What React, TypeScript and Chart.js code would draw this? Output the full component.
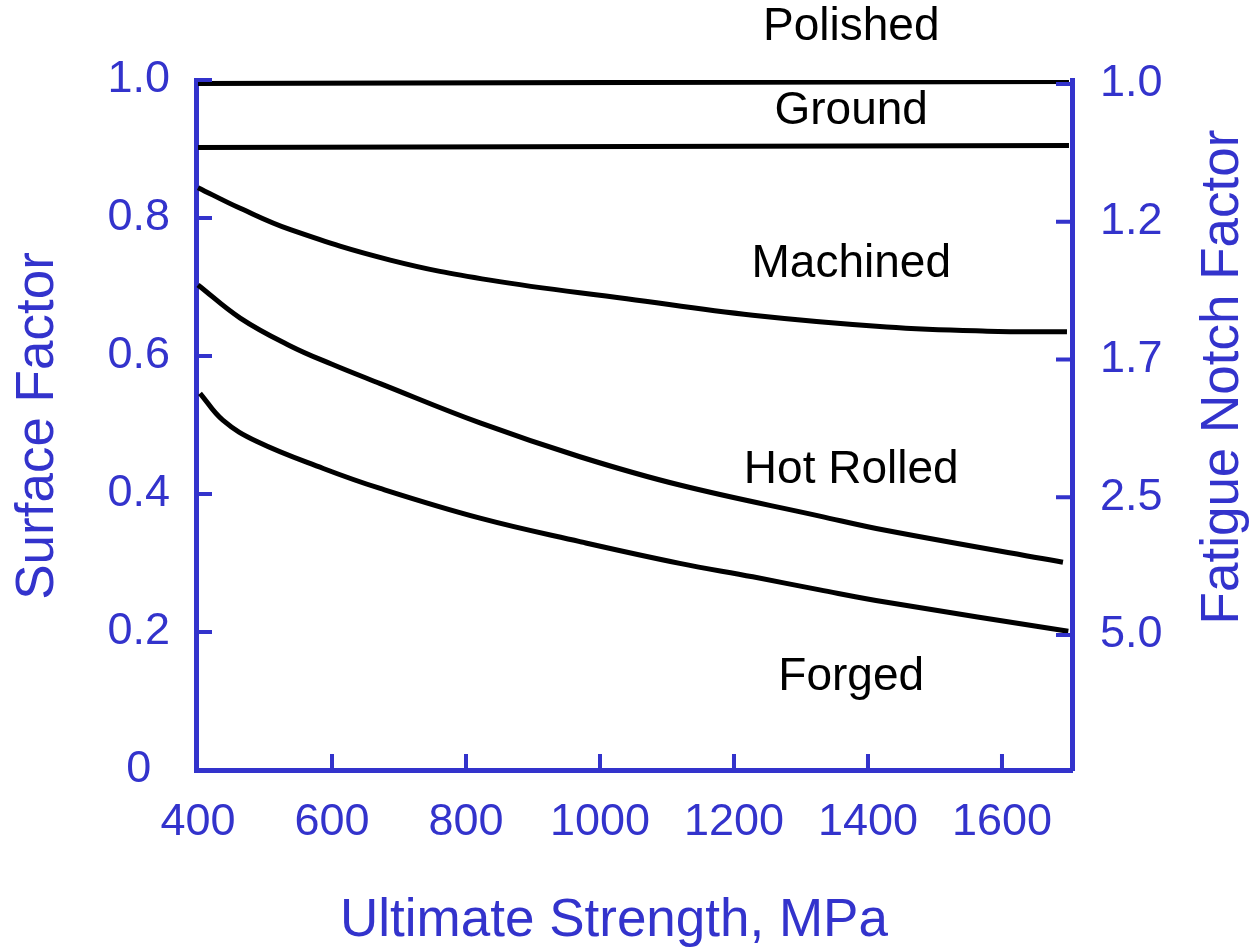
import React, { useEffect, useRef } from "react";
import { Chart, registerables } from "chart.js";

Chart.register(...registerables);

// ---- data ----
const polishedX = [400, 1700];
const polishedY = [0.995, 0.998];
const groundX = [400, 1700];
const groundY = [0.902, 0.905];
const machinedX = [400, 463, 538, 687, 836, 1040, 1228, 1428, 1578, 1697];
const machinedY = [0.844, 0.814, 0.783, 0.739, 0.71, 0.683, 0.659, 0.642, 0.636, 0.635];
const hotRolledX = [400, 463, 537, 600, 672, 821, 970, 1119, 1328, 1428, 1691];
const hotRolledY = [0.703, 0.655, 0.615, 0.588, 0.56, 0.503, 0.454, 0.413, 0.368, 0.347, 0.301];
const forgedX = [403, 437, 488, 587, 672, 821, 970, 1119, 1228, 1328, 1428, 1699];
const forgedY = [0.546, 0.507, 0.476, 0.437, 0.408, 0.365, 0.331, 0.2995, 0.28, 0.261, 0.243, 0.201];

const seriesNames = ["Polished", "Ground", "Machined", "Hot Rolled", "Forged"];
const labelX = 1375;
const labelY = [1.077, 0.955, 0.733, 0.435, 0.135];

const xTickValues = [400, 600, 800, 1000, 1200, 1400, 1600];
const leftTickValues = [0, 0.2, 0.4, 0.6, 0.8, 1.0];
const leftTickLabels = ["0", "0.2", "0.4", "0.6", "0.8", "1.0"];
const rightTickValues = [0.2, 0.4, 0.6, 0.8, 1.0];
const rightTickLabels = ["5.0", "2.5", "1.7", "1.2", "1.0"];

const xTitle = "Ultimate Strength, MPa";
const leftTitle = "Surface Factor";
const rightTitle = "Fatigue Notch Factor";

const BLUE = "#3333cc";
const FONT = "'Liberation Sans', Arial, Helvetica, sans-serif";

const toPoints = (xs: number[], ys: number[]) => xs.map((x, i) => ({ x, y: ys[i] }));

const decorPlugin = {
  id: "decor",
  afterDraw(chart: any) {
    const { ctx, chartArea: a, scales } = chart;
    const x = scales.x, y = scales.y, y2 = scales.y2;
    ctx.save();
    // inward tick marks
    ctx.strokeStyle = BLUE;
    ctx.lineWidth = 4;
    const TL = 16;
    ctx.beginPath();
    xTickValues.slice(1).forEach((v) => {
      const px = x.getPixelForValue(v);
      ctx.moveTo(px, a.bottom);
      ctx.lineTo(px, a.bottom - TL);
    });
    leftTickValues.slice(1).forEach((v) => {
      const py = y.getPixelForValue(v);
      ctx.moveTo(a.left, py);
      ctx.lineTo(a.left + TL, py);
    });
    rightTickValues.forEach((v) => {
      const py = y2.getPixelForValue(v);
      ctx.moveTo(a.right, py);
      ctx.lineTo(a.right - TL, py);
    });
    ctx.stroke();

    // axis titles
    ctx.fillStyle = BLUE;
    ctx.font = `53px ${FONT}`;
    ctx.textAlign = "center";
    ctx.textBaseline = "middle";
    ctx.fillText(xTitle, 614, 921);
    ctx.save();
    ctx.translate(38, 426);
    ctx.rotate(-Math.PI / 2);
    ctx.fillText(leftTitle, 0, 0);
    ctx.restore();
    ctx.save();
    ctx.translate(1223, 377);
    ctx.rotate(-Math.PI / 2);
    ctx.fillText(rightTitle, 0, 0);
    ctx.restore();

    // curve labels
    ctx.fillStyle = "#000";
    ctx.font = `46px ${FONT}`;
    seriesNames.forEach((name, i) => {
      ctx.fillText(name, x.getPixelForValue(labelX), y.getPixelForValue(labelY[i]));
    });
    ctx.restore();
  },
};

export default function App() {
  const ref = useRef<HTMLCanvasElement>(null);
  useEffect(() => {
    const canvas = ref.current!;
    const mk = (label: string, xs: number[], ys: number[]) => ({
      label,
      data: toPoints(xs, ys),
      borderColor: "#000",
      borderWidth: 5,
      pointRadius: 0,
      fill: false,
      tension: 0.4,
      borderCapStyle: "butt" as const,
    });
    const chart = new Chart(canvas, {
      type: "line",
      data: {
        datasets: [
          mk("Polished", polishedX, polishedY),
          mk("Ground", groundX, groundY),
          mk("Machined", machinedX, machinedY),
          mk("Hot Rolled", hotRolledX, hotRolledY),
          mk("Forged", forgedX, forgedY),
        ],
      },
      options: {
        animation: false,
        responsive: false,
        maintainAspectRatio: false,
        layout: { padding: { top: 80, left: 0, right: 0, bottom: 0 } },
        plugins: { legend: { display: false }, tooltip: { enabled: false } },
        scales: {
          x: {
            type: "linear",
            min: 397,
            max: 1704.5,
            afterFit: (s: any) => { s.height = 181; },
            afterBuildTicks: (s: any) => { s.ticks = xTickValues.map((v) => ({ value: v })); },
            grid: { display: false, drawTicks: false },
            border: { display: true, color: BLUE, width: 5 },
            ticks: {
              color: BLUE,
              padding: 26,
              font: { family: FONT, size: 45 },
              maxRotation: 0,
              autoSkip: false,
              callback: (v: any) => String(v),
            },
          },
          y: {
            type: "linear",
            position: "left",
            min: 0,
            max: 1,
            afterFit: (s: any) => { s.width = 196; },
            afterBuildTicks: (s: any) => { s.ticks = leftTickValues.map((v) => ({ value: v })); },
            grid: { display: false, drawTicks: false },
            border: { display: true, color: BLUE, width: 5 },
            ticks: {
              color: BLUE,
              padding: 26,
              crossAlign: "center",
              font: { family: FONT, size: 45 },
              autoSkip: false,
              callback: (v: any) => {
                const i = leftTickValues.findIndex((t) => Math.abs(t - v) < 1e-6);
                return i >= 0 ? leftTickLabels[i] : "";
              },
            },
          },
          y2: {
            type: "linear",
            position: "right",
            min: 0.004,
            max: 1.0058,
            afterFit: (s: any) => { s.width = 184; },
            afterBuildTicks: (s: any) => { s.ticks = rightTickValues.map((v) => ({ value: v })); },
            grid: { display: false, drawTicks: false },
            border: { display: true, color: BLUE, width: 5 },
            ticks: {
              color: BLUE,
              padding: 28,
              font: { family: FONT, size: 45 },
              autoSkip: false,
              callback: (v: any) => {
                const i = rightTickValues.findIndex((t) => Math.abs(t - v) < 1e-6);
                return i >= 0 ? rightTickLabels[i] : "";
              },
            },
          },
        },
      },
      plugins: [decorPlugin],
    });
    return () => chart.destroy();
  }, []);
  return (
    <div style={{ position: "fixed", left: 0, top: 0, width: 1256, height: 951, background: "#fff" }}>
      <canvas ref={ref} width={1256} height={951} style={{ display: "block" }} />
    </div>
  );
}
